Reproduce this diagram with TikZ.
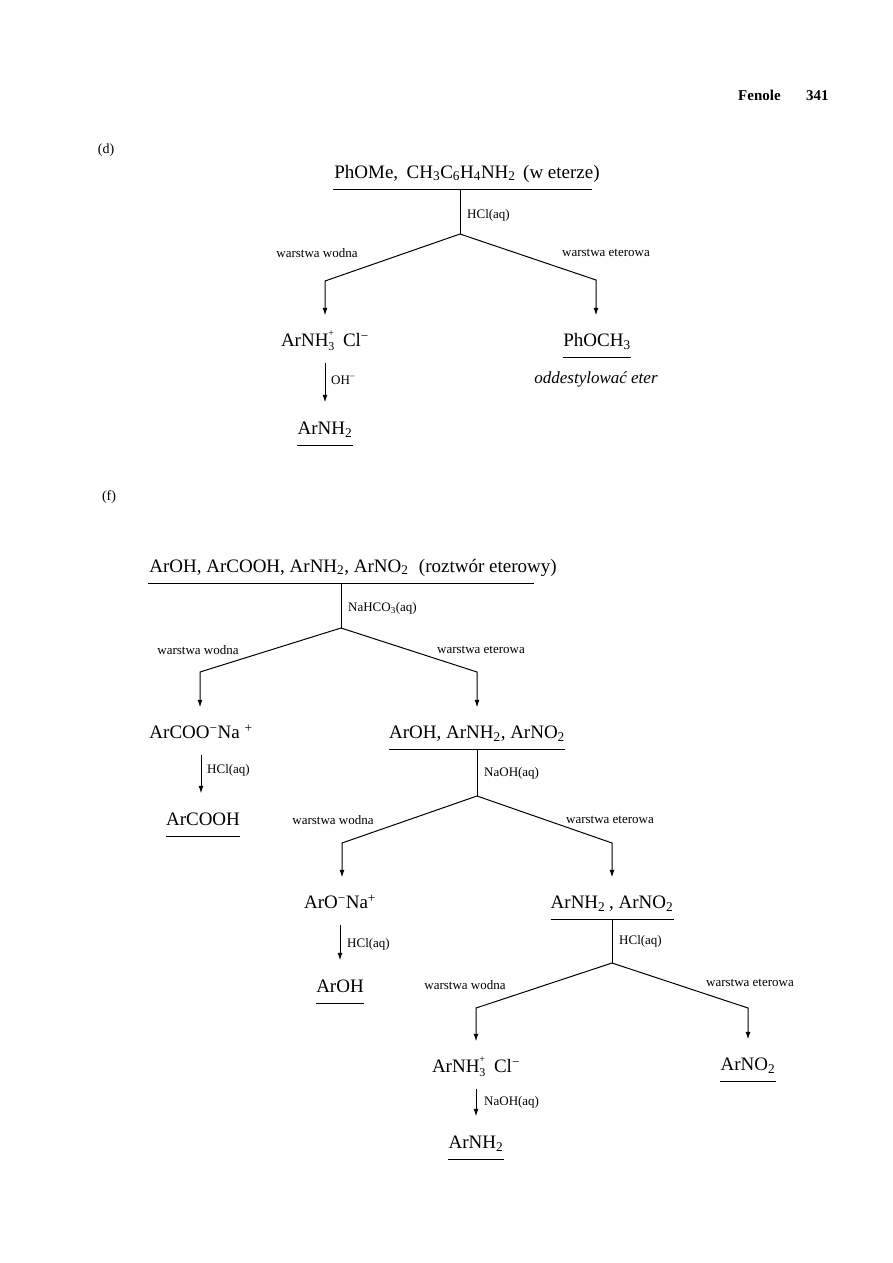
\documentclass[tikz,border=0pt]{standalone}
\usepackage{fontspec}
\setmainfont{Liberation Serif}
\usetikzlibrary{arrows.meta,calc}
\newcommand\chemfs{\fontsize{19}{22}\selectfont}
\newcommand\labfs{\fontsize{13}{15}\selectfont}
\newcommand\chsub[1]{\textsubscript{#1}}
\newcommand\chsup[1]{\textsuperscript{#1}}
\newcommand\chsubsup[2]{\rlap{\raisebox{10pt}{\fontsize{10}{10}\selectfont #2}}\raisebox{-4pt}{\fontsize{12}{12}\selectfont #1}}
\newcommand\underrule[1]{\draw[ln] ($(#1.base west)+(0,11)$) -- ($(#1.base east)+(0,11)$);}
\begin{document}
\begin{tikzpicture}[x=1pt,y=-1pt,
  chem/.style={font=\chemfs, inner sep=0pt, anchor=base, text height=13pt, text depth=4pt},
  lab/.style={font=\labfs, inner sep=0pt},
  ital/.style={font=\fontsize{17}{20}\selectfont\itshape, inner sep=0pt},
  hdr/.style={font=\fontsize{15}{18}\selectfont\bfseries, inner sep=0pt, anchor=base west},
  tag/.style={font=\fontsize{14}{16}\selectfont, inner sep=0pt},
  ln/.style={line width=1pt},
  arr/.style={ln, -{Latex[length=7.5pt,width=5pt]}},
  brarr/.style={arr, shorten >=18pt},
  rxarr/.style={arr, shorten <=12pt, shorten >=19pt}]
\fill[white] (0,0) rectangle (893,1263);
\useasboundingbox (0,0) rectangle (893,1263);

% header
\node[hdr] (fen) at (738,100) {Fenole};
\node[hdr] (pg) at (806,100) {341};

% ---------- (d) ----------
\node[tag] (dtag) at (106,150) {(d)};
\node[chem] (dT) at (467,178) {PhOMe,\hspace{0.45em}CH\chsub{3}C\chsub{6}H\chsub{4}NH\chsub{2}\hspace{0.4em}(w eterze)};
\coordinate (dRl) at (333,189);
\coordinate (dRr) at (592,189);
\draw[ln] (dRl) -- (dRr);
\coordinate (dTop) at (460,189);
\coordinate (dS) at (460,234);
\coordinate (dL) at (325,281);
\coordinate (dR) at (596,280);
\node[lab,anchor=base west] (dHCl) at (467,218) {HCl(aq)};
\node[lab] (dWw) at (317,253) {warstwa wodna};
\node[lab] (dWe) at (606,253) {warstwa eterowa};
\node[chem] (dAm) at (325,346.5) {ArNH\chsubsup{3}{+}\hspace{0.45em}Cl\chsup{−}};
\node[chem] (dPh) at (597,346.5) {PhOCH\chsub{3}};
\underrule{dPh}
\node[ital] (dEt) at (596,379) {oddestylować eter};
\node[chem] (dNH) at (325,434.5) {ArNH\chsub{2}};
\underrule{dNH}
\node[lab,anchor=west] (dOH) at (331,380) {OH\chsup{−}};
\draw[ln] (dTop) -- (dS);
\draw[brarr] (dS) -- (dL) -- (dL |- dAm.north);
\draw[brarr] (dS) -- (dR) -- (dR |- dPh.north);
\draw[rxarr] (dAm.south) -- (dAm.south |- dNH.north);

% ---------- (f) ----------
\node[tag] (ftag) at (109,497) {(f)};
\node[chem] (fT) at (353,572) {ArOH, ArCOOH, ArNH\chsub{2}, ArNO\chsub{2}\hspace{0.55em}(roztwór eterowy)};
\coordinate (fRl) at (148,583);
\coordinate (fRr) at (534,583);
\draw[ln] (fRl) -- (fRr);
\coordinate (fTop) at (341,583);
\coordinate (fS) at (341,628);
\coordinate (fL) at (200,672);
\coordinate (fR) at (477,672);
\node[lab,anchor=west] (fNa) at (348,608) {NaHCO\chsub{3}(aq)};
\node[lab] (fWw) at (198,650) {warstwa wodna};
\node[lab] (fWe) at (481,650) {warstwa eterowa};
\node[chem] (fAc) at (201,738.5) {ArCOO\chsup{−}Na\hspace{0.25em}\chsup{+}};
\node[chem] (fAcH) at (203,825.5) {ArCOOH};
\underrule{fAcH}
\node[lab,anchor=west] (fHCl) at (207,770) {HCl(aq)};
\node[chem] (fMix) at (477,738.5) {ArOH, ArNH\chsub{2}, ArNO\chsub{2}};
\underrule{fMix}
\draw[ln] (fTop) -- (fS);
\draw[brarr] (fS) -- (fL) -- (fL |- fAc.north);
\draw[brarr] (fS) -- (fR) -- (fR |- fMix.north);
\draw[rxarr] (fAc.south) -- (fAc.south |- fAcH.north);

% second split
\coordinate (gTop) at (477,749.5);
\coordinate (gS) at (477,796);
\coordinate (gL) at (342,843);
\coordinate (gR) at (612,843);
\node[lab,anchor=west] (gNaOH) at (484,773) {NaOH(aq)};
\node[lab] (gWw) at (333,820) {warstwa wodna};
\node[lab] (gWe) at (610,820) {warstwa eterowa};
\node[chem] (gAo) at (340,908.5) {ArO\chsup{−}Na\chsup{+}};
\node[chem] (gAoH) at (340,992.5) {ArOH};
\underrule{gAoH}
\node[lab,anchor=west] (gHCl) at (347,944) {HCl(aq)};
\node[chem] (gMix) at (612,908.5) {ArNH\chsub{2}\hspace{0.2em}, ArNO\chsub{2}};
\underrule{gMix}
\draw[ln] (gTop) -- (gS);
\draw[brarr] (gS) -- (gL) -- (gL |- gAo.north);
\draw[brarr] (gS) -- (gR) -- (gR |- gMix.north);
\draw[rxarr] (gAo.south) -- (gAo.south |- gAoH.north);

% third split
\coordinate (hTop) at (612,919.5);
\coordinate (hS) at (612,963);
\coordinate (hL) at (476,1008);
\coordinate (hR) at (748,1008);
\node[lab,anchor=west] (hHCl) at (619,941) {HCl(aq)};
\node[lab] (hWw) at (465,985) {warstwa wodna};
\node[lab] (hWe) at (750,983) {warstwa eterowa};
\node[chem] (hAm) at (476,1072.5) {ArNH\chsubsup{3}{+}\hspace{0.45em}Cl\chsup{−}};
\node[chem] (hNH) at (476,1148.5) {ArNH\chsub{2}};
\underrule{hNH}
\node[lab,anchor=west] (hNaOH) at (484,1102) {NaOH(aq)};
\node[chem] (hNO) at (748,1070.5) {ArNO\chsub{2}};
\underrule{hNO}
\draw[ln] (hTop) -- (hS);
\draw[brarr] (hS) -- (hL) -- (hL |- hAm.north);
\draw[brarr] (hS) -- (hR) -- (hR |- hNO.north);
\draw[rxarr] (hAm.south) -- (hAm.south |- hNH.north);
\end{tikzpicture}
\end{document}
